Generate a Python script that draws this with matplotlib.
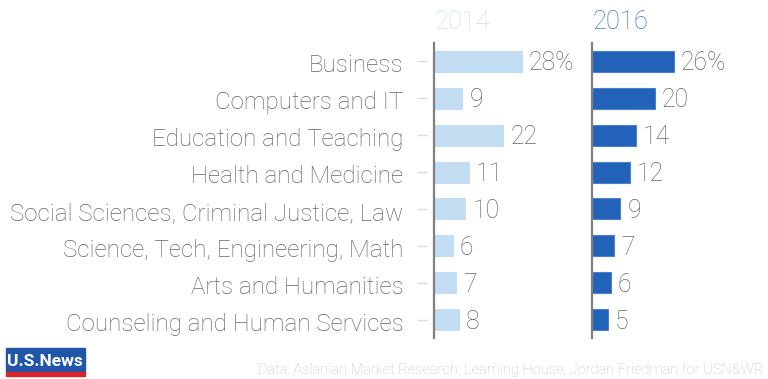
import matplotlib.pyplot as plt
from matplotlib.patches import Rectangle
import matplotlib.transforms as mtransforms

plt.rcParams['font.family'] = ['Roboto', 'DejaVu Sans']

# data
categories = [
    "Business",
    "Computers and IT",
    "Education and Teaching",
    "Health and Medicine",
    "Social Sciences, Criminal Justice, Law",
    "Science, Tech, Engineering, Math",
    "Arts and Humanities",
    "Counseling and Human Services",
]
values_2014 = [28, 9, 22, 11, 10, 6, 7, 8]
values_2016 = [26, 20, 14, 12, 9, 7, 6, 5]
years = ["2014", "2016"]

W, H = 768, 379
fig = plt.figure(figsize=(W / 100, H / 100), dpi=100)

bar_colors = ["#c3def2", "#2262b8"]
title_colors = ["#c8e1f5", "#3b7bd0"]
text_color = "#666666"

ax_w = 140
ax_bottom = 1 - 338 / H
ax_height = (338 - 43) / H
lefts = [434, 592]
px_per_unit = 88 / 28

# nudge text down a little so digits sit centred on the bars
nudge = mtransforms.ScaledTranslation(0, -2 / 100, fig.dpi_scale_trans)

for i, (vals, year) in enumerate(zip([values_2014, values_2016], years)):
    ax = fig.add_axes([lefts[i] / W, ax_bottom, ax_w / W, ax_height])
    ypos = list(range(len(categories)))
    ax.barh(ypos, vals, height=0.57, color=bar_colors[i],
            edgecolor=bar_colors[i] if i == 0 else "#4a80cc", linewidth=0.8)
    ax.set_xlim(0, ax_w / px_per_unit)
    ax.set_ylim(len(categories) - 0.5, -0.5)
    for s in ["top", "right", "bottom"]:
        ax.spines[s].set_visible(False)
    ax.spines["left"].set_color("#808080")
    ax.spines["left"].set_linewidth(1.6)
    ax.set_xticks([])
    for j, v in enumerate(vals):
        label = f"{v}%" if j == 0 else f"{v}"
        ax.text(v + 7 / px_per_unit, j, label, va="center", ha="left",
                fontsize=17.8, color=text_color, fontweight="light",
                transform=ax.transData + nudge)
    fig.text(lefts[i] / W, 1 - 22 / H, year, ha="left", va="center",
             fontsize=18.4, color=title_colors[i], fontweight="light")
    if i == 0:
        ax.set_yticks(ypos)
        ax.set_yticklabels(categories, fontsize=17.4, color=text_color,
                           fontweight="light")
        ax.tick_params(axis="y", length=0, pad=22)
        for lab in ax.get_yticklabels():
            lab.set_transform(lab.get_transform() + nudge)
        trans = mtransforms.blended_transform_factory(ax.transAxes, ax.transData)
        ax.hlines(ypos, -17 / ax_w, -7 / ax_w, transform=trans,
                  color="#dcdcdc", linewidth=1, clip_on=False)
    else:
        ax.set_yticks([])

# source line
fig.text(763 / W, 1 - 370 / H,
         "Data: Aslanian Market Research, Learning House; Jordan Friedman for USN&WR",
         ha="right", va="center", fontsize=10.5, color="#c4c4c4", fontweight="light")

# logo
fig.patches.append(Rectangle((6 / W, 1 - 372 / H), 79 / W, 24 / H,
                             transform=fig.transFigure, color="#1f56a8"))
fig.patches.append(Rectangle((6 / W, 1 - 376 / H), 79 / W, 4 / H,
                             transform=fig.transFigure, color="#d9262e"))
fig.text(45 / W, 1 - 361 / H, "U.S.News", ha="center", va="center",
         fontsize=12.5, color="white", fontweight="bold")

fig.savefig("out.png", dpi=100)
